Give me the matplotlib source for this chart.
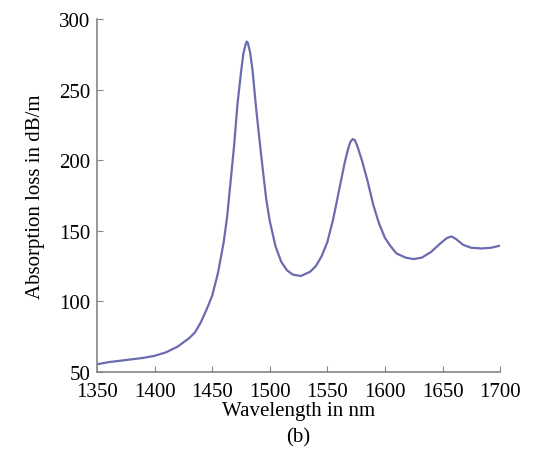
import matplotlib
matplotlib.use("Agg")
import matplotlib.pyplot as plt

# absorption spectrum
wavelength = [1350, 1360, 1370, 1380, 1390, 1400, 1410, 1420, 1430, 1435,
              1440, 1445, 1450, 1455, 1460, 1463, 1466, 1469, 1472, 1475,
              1477, 1479, 1480, 1481, 1483, 1485, 1488, 1491, 1494, 1497,
              1500, 1505, 1510, 1515, 1520, 1527, 1535, 1540, 1545, 1550,
              1555, 1560, 1565, 1568, 1570, 1572, 1574, 1576, 1580, 1585,
              1590, 1595, 1600, 1605, 1610, 1618, 1625, 1632, 1640, 1648,
              1654, 1658, 1662, 1668, 1675, 1684, 1692, 1700]
loss = [55.5, 57, 58, 59, 60, 61.5, 64, 68, 74, 78,
        85, 94, 104, 120, 142, 160, 185, 210, 240, 262,
        275, 282, 284, 283, 276, 264, 238, 215, 193, 172,
        157, 139, 128, 122, 119, 118, 121, 125, 132, 142,
        158, 178, 198, 208, 213, 215, 214, 210, 200, 185,
        168, 155, 145, 139, 134, 131, 130, 131, 135, 141,
        145, 146, 144, 140, 138, 137.5, 138, 139.5]

xticks = [1350, 1400, 1450, 1500, 1550, 1600, 1650, 1700]
yticks = [50, 100, 150, 200, 250, 300]

plt.rcParams['font.family'] = ['Liberation Serif', 'DejaVu Serif']

fig = plt.figure(figsize=(5.36, 4.64), dpi=100)
ax = fig.add_axes([0.181, 0.196, 0.752, 0.761])

ax.plot(wavelength, loss, color='#6b6bb0', lw=1.6, solid_joinstyle='round')

ax.set_xlim(1350, 1700)
ax.set_ylim(50, 300)
ax.set_xticks(xticks)
ax.set_yticks(yticks)

for side in ['top', 'right']:
    ax.spines[side].set_visible(False)
for side in ['left', 'bottom']:
    ax.spines[side].set_color('#8a8580')
    ax.spines[side].set_linewidth(1.2)
ax.tick_params(direction='in', length=4, color='#8a8580', labelsize=15)
ax.tick_params(axis='x', pad=7)
ax.tick_params(axis='y', pad=5)

ax.set_ylabel('Absorption loss in dB/m', fontsize=15, labelpad=10)
ax.set_xlabel('Wavelength in nm', fontsize=15, labelpad=0)
fig.text(0.557, 0.056, '(b)', fontsize=15, ha='center', va='center')

fig.savefig('out.png', dpi=100)
